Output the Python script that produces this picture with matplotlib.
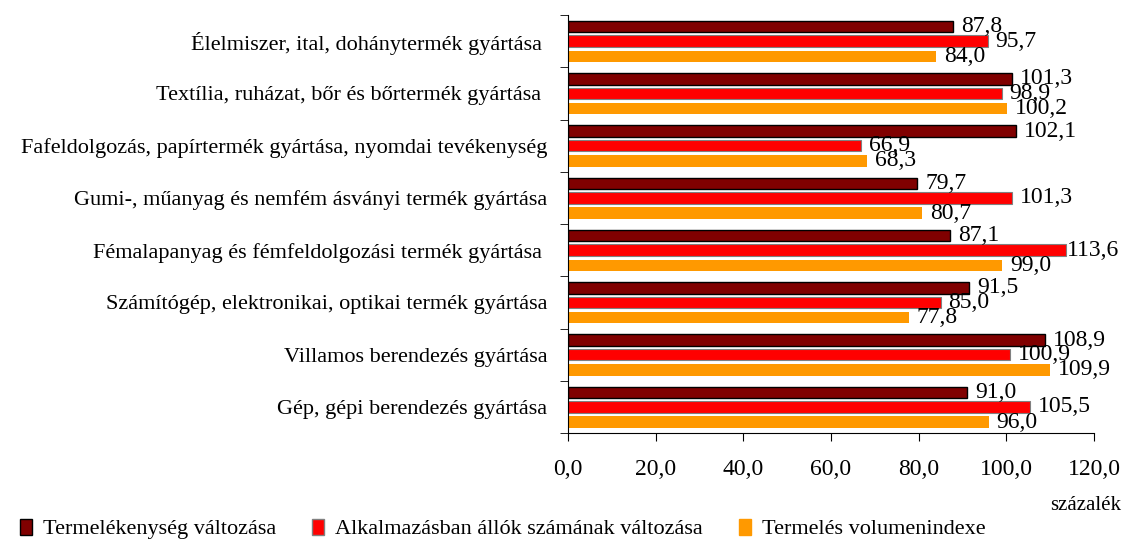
import matplotlib.pyplot as plt
from matplotlib.patches import Patch
import numpy as np

plt.rcParams['font.family'] = ['Liberation Serif', 'DejaVu Serif']

# Ágazatok és értékek
categories = [
    "Élelmiszer, ital, dohánytermék gyártása ",
    "Textília, ruházat, bőr és bőrtermék gyártása ",
    "Fafeldolgozás, papírtermék gyártása, nyomdai tevékenység",
    "Gumi-, műanyag és nemfém ásványi termék gyártása",
    "Fémalapanyag és fémfeldolgozási termék gyártása ",
    "Számítógép, elektronikai, optikai termék gyártása",
    "Villamos berendezés gyártása",
    "Gép, gépi berendezés gyártása",
]
termelekenyseg = [87.8, 101.3, 102.1, 79.7, 87.1, 91.5, 108.9, 91.0]
alkalmazottak = [95.7, 98.9, 66.9, 101.3, 113.6, 85.0, 100.9, 105.5]
volumenindex = [84.0, 100.2, 68.3, 80.7, 99.0, 77.8, 109.9, 96.0]

series_names = ["Termelékenység változása",
                "Alkalmazásban állók számának változása",
                "Termelés volumenindexe"]
xticks = [0, 20, 40, 60, 80, 100, 120]

fig = plt.figure(figsize=(11.23, 5.4), dpi=100)
ax = fig.add_axes([0.5058, 0.1981, 0.4684, 0.7741])

y = np.arange(len(categories))
offsets = [-0.28, 0.0, 0.29]
h = 0.22
styles = [
    dict(color="#800000", edgecolor="black", linewidth=1.0),
    dict(color="#FF0000", edgecolor="#808080", linewidth=0.8),
    dict(color="#FF9900", edgecolor="none", linewidth=0),
]
data = [termelekenyseg, alkalmazottak, volumenindex]

for vals, off, st in zip(data, offsets, styles):
    ax.barh(y + off, vals, height=h, **st)
    for yi, v in zip(y, vals):
        # a túl hosszú oszlopnál a felirat a szélhez tolódik
        gap = 1.8 if v < 112 else 0.2
        ax.text(v + gap, yi + off, f"{v:.1f}".replace(".", ","),
                va="center", ha="left", fontsize=17)

ax.set_ylim(len(categories) - 0.5, -0.5)
ax.set_xlim(0, 120)
ax.set_xticks(xticks)
ax.set_xticklabels([f"{t:.1f}".replace(".", ",") for t in xticks], fontsize=17)
ax.tick_params(axis="x", length=6, pad=13, direction="out")

ax.set_yticks(y)
ax.set_yticklabels(categories, fontsize=16)
ax.tick_params(axis="y", which="major", length=0, pad=15)
ax.set_yticks(np.arange(len(categories) + 1) - 0.5, minor=True)
ax.tick_params(axis="y", which="minor", length=6, direction="out")

ax.spines["top"].set_visible(False)
ax.spines["right"].set_visible(False)

fig.text(0.998, 0.064, "százalék", ha="right", va="center", fontsize=15)

handles = [Patch(facecolor=st["color"],
                 edgecolor=st["edgecolor"] if st["edgecolor"] != "none" else st["color"],
                 linewidth=1.0) for st in styles]
fig.legend(handles, series_names, loc="lower left", bbox_to_anchor=(0.0, -0.036),
           ncol=3, frameon=False, fontsize=16, handlelength=0.55, handleheight=0.75,
           handletextpad=0.5, columnspacing=1.6)

plt.savefig("out.png", dpi=100)
